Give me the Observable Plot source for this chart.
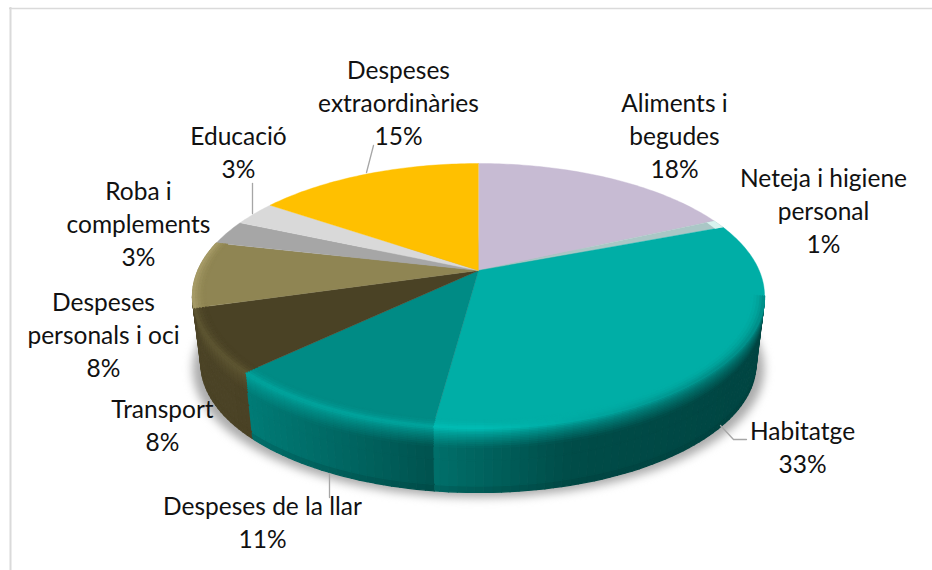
<!DOCTYPE html>
<html lang="ca">
<head>
<meta charset="utf-8">
<script src="https://cdn.jsdelivr.net/npm/d3@7"></script>
<script src="https://cdn.jsdelivr.net/npm/@observablehq/plot@0.6"></script>
<style>html,body{margin:0;padding:0;background:#fff;overflow:hidden}svg{display:block}</style>
</head>
<body>
<div id="chart"></div>
<script>
// Data (shares of total spending, %)
const categories = ["Aliments i\nbegudes", "Neteja i higiene\npersonal", "Habitatge", "Despeses de la llar", "Transport", "Despeses\npersonals i oci", "Roba i\ncomplements", "Educació", "Despeses\nextraordinàries"];
const shares = [18.1, 1, 33, 10.7, 7.7, 8.1, 3, 3, 15.4];
const topColors = ["#C7BBD3", "#AAC7C6", "#00AEA6", "#008B85", "#4A4225", "#8F8553", "#A6A6A6", "#D9D9D9", "#FFC000"];

// Layout of labels and leaders, in chart pixels
const labelX = [674, 823, 802, 262, 162, 103, 138, 238, 398];
const labelBaseline = [177, 252, 472, 547, 450, 376, 265, 177, 144];
const leaders = [
  [[373, 145], [366, 172]],
  [[252, 183], [252, 213]],
  [[329, 473], [329, 497]],
  [[720, 425], [733, 439], [746, 439]]
];

// Perspective view of the pie
const cx = 478, cy = 270, A = 280.7, B = 127.6, k = 0.1925, depth = 68.7, shrink = 0.03;
const rad = Math.PI / 180;
function rim(deg, r = 1, t = 0) {
  const th = deg * rad, s = 1 - shrink * t, w = 1 + k * r * Math.cos(th);
  return {x: cx + s * A * r * Math.sin(th) / w, y: cy - s * B * r * Math.cos(th) / w + t * depth};
}
const total = d3.sum(shares);
const cum = d3.cumsum(shares);
const slices = categories.map((name, i) => ({
  i, name, share: shares[i], fill: topColors[i],
  a0: (i ? cum[i - 1] : 0) / total * 360,
  a1: cum[i] / total * 360
}));
function arcAngles(a0, a1, step) {
  const out = d3.range(a0, a1, step);
  out.push(a1);
  return out;
}

// Top faces
const topRows = slices.flatMap((s) =>
  [{...rim(0, 0), id: s.i, fill: s.fill},
   ...arcAngles(s.a0, s.a1, 1).map((a) => ({...rim(a), id: s.i, fill: s.fill}))]);

// Neteja tip
const tip = slices[1];
const tipRows = [
  ...arcAngles(tip.a0, tip.a1, 0.5).map((a) => rim(a)),
  ...arcAngles(tip.a0, tip.a1, 0.5).reverse().map((a) => rim(a, 0.965))
];

// Visible wall range and shading
const wallFrom = 101.1, wallTo = 258.9, bevelEnd = 285;
const wallShade = {
  2: d3.scaleLinear().domain([431, 570, 764]).range(["#00706B", "#004C48", "#004542"]).clamp(true),
  3: d3.scaleLinear().domain([245, 431]).range(["#007C77", "#00534F"]).clamp(true),
  4: d3.scaleLinear().domain([190, 250]).range(["#4C4427", "#4A4225"]).clamp(true),
  5: d3.scaleLinear().domain([190, 250]).range(["#4C4427", "#4C4427"]).clamp(true)
};
const habitatgeHi = d3.scaleLinear().domain([480, 720]).range(["#00BDB5", "#008C86"]).clamp(true);
const highlight = {
  2: habitatgeHi,
  3: () => "#00A69F",
  4: () => "#5F5733",
  5: () => "#A99E69"
};
const wallHighlight = {...highlight, 5: () => "#5F5733"};
const tLevels = [0, 0.025, 0.05, 0.075, 0.1, 0.125, 0.15, 0.175, 0.2, 0.23, 0.26, 0.3, 0.5, 0.9, 1];
const uLevels = [0.955, 0.965, 0.975, 0.985, 0.993, 1];
const wallRows = [], bevelRows = [];
let pid = 0;
for (const s of slices) {
  if (!(s.i in highlight)) continue;
  const wA = Math.max(s.a0, wallFrom), wB = Math.min(s.a1, wallTo);
  if (wB > wA) {
    const as = arcAngles(wA, wB, 1.5);
    for (let n = 0; n < as.length - 1; n++) {
      for (let m = tLevels.length - 2; m >= 0; m--) {
        const t0 = tLevels[m], t1 = tLevels[m + 1];
        const tm = (t0 + t1) / 2;
        const mid = rim((as[n] + as[n + 1]) / 2, 1, tm);
        const base = wallShade[s.i](mid.x);
        let c = tm < 0.3 ? d3.interpolateRgb(wallHighlight[s.i](mid.x), base)(Math.pow(tm / 0.3, 0.7)) : base;
        if (tm > 0.9 && s.i < 4) c = d3.interpolateRgb(c, "#00302E")(0.18);
        const id = pid++;
        for (const p of [rim(as[n], 1, t0), rim(as[n + 1], 1, t0), rim(as[n + 1], 1, t1), rim(as[n], 1, t1)])
          wallRows.push({...p, id, c});
      }
    }
  }
  const bA = Math.max(s.a0, wallFrom), bB = Math.min(s.a1, bevelEnd);
  if (bB > bA) {
    const as = arcAngles(bA, bB, 1.5);
    for (let n = 0; n < as.length - 1; n++) {
      for (let m = 0; m < uLevels.length - 1; m++) {
        const r0 = uLevels[m], r1 = uLevels[m + 1];
        const u = ((r0 + r1) / 2 - uLevels[0]) / (1 - uLevels[0]);
        const mid = rim((as[n] + as[n + 1]) / 2, r1);
        const c = d3.interpolateRgb(s.fill, highlight[s.i](mid.x))(u * u);
        const id = pid++;
        for (const p of [rim(as[n], r0), rim(as[n + 1], r0), rim(as[n + 1], r1), rim(as[n], r1)])
          bevelRows.push({...p, id, c});
      }
    }
  }
}

// Soft shadow under the pie
const shadowRows = arcAngles(0, 360, 2).map((a) => {
  const p = rim(a, 1, 1);
  return {x: cx + (p.x - cx) * 1.03, y: p.y + 5};
});

const labelRows = slices.map((s, i) => ({
  text: s.name + "\n" + Math.round(s.share) + "%",
  x: labelX[i], y: labelBaseline[i]
}));
const leaderRows = leaders.flatMap((l, id) => l.map(([x, y]) => ({x, y, id})));

const chart = Plot.plot({
  width: 932, height: 570,
  margin: 0,
  x: {domain: [0, 932], range: [0, 932], axis: null},
  y: {domain: [0, 570], range: [0, 570], axis: null},
  color: {type: "identity"},
  style: {background: "#fff", fontFamily: "Lato, Carlito, sans-serif"},
  marks: [
    Plot.ruleY([8], {x1: 9, x2: 932, stroke: "#DADADA", strokeWidth: 1.6}),
    Plot.ruleX([10], {y1: 7, y2: 570, stroke: "#DADADA", strokeWidth: 2}),
    Plot.line(shadowRows, {x: "x", y: "y", fill: "#ababab", stroke: "none", imageFilter: "blur(5px)"}),
    Plot.line(wallRows, {x: "x", y: "y", z: "id", fill: "c", stroke: "c", strokeWidth: 1.3}),
    Plot.line(topRows, {x: "x", y: "y", z: "id", fill: "fill", stroke: "fill", strokeWidth: 0.4}),
    Plot.line(bevelRows, {x: "x", y: "y", z: "id", fill: "c", stroke: "c", strokeWidth: 1.1}),
    Plot.line(tipRows, {x: "x", y: "y", fill: "#D8F3EF", stroke: "none"}),
    Plot.text(labelRows, {x: "x", y: "y", text: "text", fontSize: 24.5, lineHeight: 1.347, lineAnchor: "bottom", textAnchor: "middle", fill: "#111"}),
    Plot.line(leaderRows, {x: "x", y: "y", z: "id", stroke: "#A6A6A6", strokeWidth: 1.3, curve: "linear"})
  ]
});
document.getElementById("chart").appendChild(chart);
</script>
</body>
</html>
